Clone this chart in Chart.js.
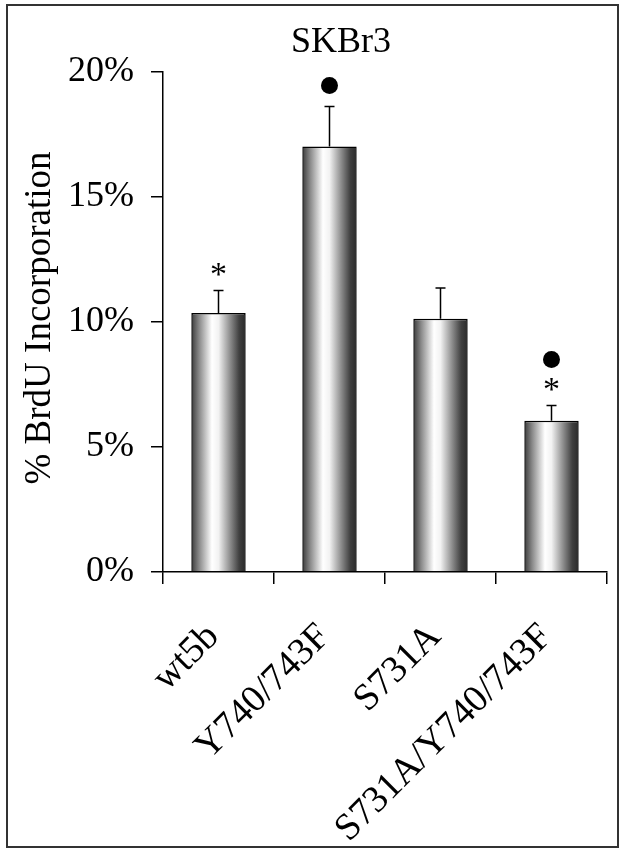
<!DOCTYPE html>
<html>
<head>
<meta charset="utf-8">
<script src="https://cdn.jsdelivr.net/npm/chart.js@4.4.1/dist/chart.umd.min.js"></script>
<style>
  html, body { margin: 0; padding: 0; background: #fff; }
  canvas { display: block; }
</style>
</head>
<body>
<canvas id="brduChart" width="629" height="860"></canvas>
<script>
// data (percent)
const categories = ['wt5b', 'Y740/743F', 'S731A', 'S731A/Y740/743F'];
const brduValues = [10.36, 17.02, 10.13, 6.05];
const brduErrors = [0.9, 1.6, 1.23, 0.61];
const starMarks = [true, false, false, true];
const dotMarks = [false, true, false, true];
const yTickLabels = ['0%', '5%', '10%', '15%', '20%'];

const SERIF = '"Liberation Serif", "Times New Roman", serif';
const BAR_PCT = 0.49;

function barFill(c) {
    const chart = c.chart;
    const area = chart.chartArea;
    if (!area) return '#999';
    const x = chart.scales.x.getPixelForValue(c.dataIndex);
    const half = (area.right - area.left) / categories.length * BAR_PCT / 2;
    const g = chart.ctx.createLinearGradient(x - half, 0, x + half, 0);
    g.addColorStop(0, '#3a3a3a');
    g.addColorStop(0.15, '#8c8c8c');
    g.addColorStop(0.38, '#ffffff');
    g.addColorStop(0.5, '#f2f2f2');
    g.addColorStop(0.72, '#8a8a8a');
    g.addColorStop(0.88, '#404040');
    g.addColorStop(1, '#2a2a2a');
    return g;
}

// white page + outer frame
const framePlugin = {
    id: 'frame',
    beforeDraw(chart) {
        const ctx = chart.ctx;
        ctx.save();
        ctx.fillStyle = '#fff';
        ctx.fillRect(0, 0, chart.width, chart.height);
        ctx.strokeStyle = '#333';
        ctx.lineWidth = 2;
        ctx.strokeRect(7, 5, 611, 842);
        ctx.restore();
    }
};

// titles, x labels, error bars and significance marks
const extrasPlugin = {
    id: 'extras',
    afterDraw(chart) {
        const ctx = chart.ctx;
        const xs = chart.scales.x, ys = chart.scales.y;
        const area = chart.chartArea;
        ctx.save();
        ctx.fillStyle = '#000';
        ctx.strokeStyle = '#000';

        ctx.font = '36px ' + SERIF;
        ctx.textAlign = 'center';
        ctx.textBaseline = 'alphabetic';
        ctx.fillText('SKBr3', 341, 52);

        ctx.save();
        ctx.translate(40, 318);
        ctx.rotate(-Math.PI / 2);
        ctx.font = '37px ' + SERIF;
        ctx.textBaseline = 'middle';
        ctx.fillText('% BrdU Incorporation', 0, 0);
        ctx.restore();

        ctx.font = '38px ' + SERIF;
        categories.forEach((lab, i) => {
            const x = xs.getPixelForValue(i);
            ctx.save();
            ctx.translate(x + 2, area.bottom + 66);
            ctx.rotate(-Math.PI / 4);
            ctx.textAlign = 'right';
            ctx.textBaseline = 'alphabetic';
            ctx.fillText(lab, 0, 0);
            ctx.restore();
        });

        ctx.lineWidth = 1.5;
        brduValues.forEach((v, i) => {
            const x = xs.getPixelForValue(i);
            const y0 = ys.getPixelForValue(v);
            const y1 = ys.getPixelForValue(v + brduErrors[i]);
            ctx.beginPath();
            ctx.moveTo(x, y0);
            ctx.lineTo(x, y1);
            ctx.moveTo(x - 5, y1);
            ctx.lineTo(x + 5, y1);
            ctx.stroke();

            let off = 0;
            if (starMarks[i]) {
                ctx.font = '34px ' + SERIF;
                ctx.textAlign = 'center';
                ctx.textBaseline = 'alphabetic';
                ctx.fillText('*', x, y1 - 19 + 13);
                off = 46;
            } else {
                off = 21;
            }
            if (dotMarks[i]) {
                ctx.beginPath();
                ctx.arc(x, y1 - off, 8.5, 0, Math.PI * 2);
                ctx.fill();
            }
        });
        ctx.restore();
    }
};

new Chart(document.getElementById('brduChart').getContext('2d'), {
    type: 'bar',
    data: {
        labels: categories,
        datasets: [{
            data: brduValues,
            backgroundColor: barFill,
            borderColor: '#000',
            borderWidth: 1.5,
            borderSkipped: 'start',
            barPercentage: BAR_PCT,
            categoryPercentage: 1
        }]
    },
    options: {
        responsive: false,
        animation: false,
        layout: { padding: { left: 0, right: 22, top: 72, bottom: 0 } },
        plugins: {
            legend: { display: false },
            title: { display: false },
            tooltip: { enabled: false }
        },
        scales: {
            x: {
                grid: { offset: true, drawOnChartArea: false, drawTicks: true, tickLength: 12, color: '#000', lineWidth: 1.5 },
                border: { display: true, color: '#000', width: 1.5, z: 1 },
                ticks: { display: false },
                afterFit(scale) { scale.height = 288; }
            },
            y: {
                min: 0,
                max: 20,
                grid: { drawOnChartArea: false, drawTicks: true, tickLength: 12, color: '#000', lineWidth: 1.5 },
                border: { display: true, color: '#000', width: 1.5, z: 1 },
                ticks: {
                    stepSize: 5,
                    padding: 17,
                    color: '#000',
                    font: { family: SERIF, size: 36 },
                    callback: (v, i) => yTickLabels[i]
                },
                afterFit(scale) { scale.width = 163; }
            }
        }
    },
    plugins: [framePlugin, extrasPlugin]
});
</script>
</body>
</html>
